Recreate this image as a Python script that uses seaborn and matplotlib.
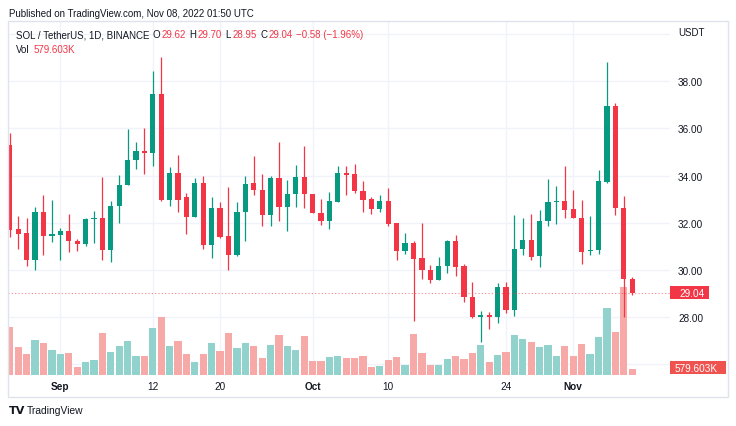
import numpy as np
import pandas as pd
import matplotlib
matplotlib.use("Agg")
import matplotlib.pyplot as plt
import matplotlib.transforms as mtransforms
from matplotlib.patches import Rectangle
import seaborn as sns

# SOL / USDT daily candles, Aug 26 - Nov 8 2022
dates = pd.date_range("2022-08-26", "2022-11-08", freq="D")

opens = [35.28, 31.72, 31.55, 30.40, 32.44, 31.44, 31.47, 31.64, 31.24, 31.10,
         32.16, 32.19, 30.86, 32.70, 33.62, 34.66, 35.06, 34.97, 37.46, 32.96,
         34.12, 33.09, 32.26, 33.69, 31.07, 32.63, 31.42, 30.62, 32.44, 33.69,
         33.37, 32.31, 33.88, 32.68, 33.23, 33.94, 33.23, 32.43, 32.06, 32.89,
         34.11, 34.05, 33.36, 33.01, 32.57, 32.94, 31.97, 30.79, 31.14, 30.49,
         29.99, 29.58, 30.16, 31.21, 30.16, 28.85, 27.99, 28.07, 27.99, 29.27,
         28.28, 30.87, 31.28, 30.57, 32.07, 32.87, 32.94, 32.57, 32.20, 30.80,
         30.84, 33.71, 36.94, 32.61, 29.62]
highs = [35.81, 32.27, 32.20, 32.65, 33.18, 32.96, 31.78, 32.37, 31.30, 32.22,
         32.48, 33.94, 32.94, 34.01, 35.98, 35.41, 36.01, 38.42, 39.03, 34.37,
         34.87, 33.26, 33.88, 34.00, 33.09, 32.87, 33.52, 32.87, 34.00, 34.82,
         34.07, 34.00, 35.43, 33.83, 34.45, 35.24, 33.24, 32.99, 33.29, 34.42,
         34.39, 34.51, 33.77, 33.08, 33.18, 33.47, 31.97, 31.56, 31.21, 31.99,
         30.21, 30.53, 31.28, 31.48, 30.25, 29.47, 28.27, 28.20, 29.44, 29.50,
         32.33, 32.19, 32.36, 32.54, 33.86, 33.56, 34.39, 33.37, 32.96, 32.27,
         34.22, 38.83, 37.08, 33.13, 29.70]
lows = [31.38, 30.89, 30.18, 30.01, 30.65, 31.18, 30.43, 30.77, 30.80, 31.03,
        31.15, 30.43, 30.32, 31.97, 33.60, 34.29, 34.07, 34.42, 32.94, 32.70,
        32.44, 31.52, 32.24, 30.89, 30.52, 31.35, 30.01, 30.60, 31.21, 33.19,
        31.88, 31.88, 32.07, 31.66, 32.68, 32.63, 32.40, 31.92, 31.73, 32.88,
        33.19, 33.25, 32.44, 32.37, 32.44, 31.88, 30.43, 30.69, 27.84, 29.61,
        29.43, 29.57, 29.85, 29.73, 28.62, 27.97, 26.93, 27.49, 27.75, 28.16,
        28.06, 30.63, 30.42, 30.14, 31.86, 31.95, 32.22, 32.19, 30.23, 30.63,
        30.66, 33.68, 32.34, 27.99, 28.95]
closes = [31.69, 31.52, 30.40, 32.44, 31.44, 31.52, 31.64, 31.21, 31.10, 32.16,
          32.19, 30.86, 32.70, 33.62, 34.66, 35.03, 34.97, 37.46, 32.96, 34.12,
          32.98, 32.26, 33.69, 31.07, 32.63, 31.38, 30.62, 32.44, 33.66, 33.37,
          32.34, 33.88, 32.68, 33.21, 33.94, 33.23, 32.41, 32.06, 32.91, 34.11,
          34.04, 33.33, 32.98, 32.57, 32.94, 31.95, 30.79, 31.14, 30.46, 29.99,
          29.58, 30.16, 31.21, 30.14, 28.83, 27.99, 28.07, 27.99, 29.27, 28.28,
          30.87, 31.28, 30.55, 32.07, 32.88, 32.94, 32.55, 32.20, 30.77, 30.84,
          33.76, 36.94, 32.61, 29.62, 29.04]
# volume in thousands
vol_k = [4637, 2705, 2029, 3349, 3059, 2415, 2029, 2093, 773, 1224,
         1417, 4089, 2222, 2769, 3317, 1803, 1803, 4540, 5603, 2801,
         3252, 2029, 1288, 2061, 3123, 2318, 4025, 2608, 3059, 2769,
         1642, 2930, 3896, 2769, 2415, 3767, 1352, 1352, 1739, 1803,
         1610, 1674, 1803, 773, 869, 1417, 1739, 966, 3928, 2125,
         966, 934, 1546, 1803, 1546, 2125, 2898, 1224, 1932, 2222,
         3896, 3445, 3188, 2705, 2930, 1803, 2769, 1803, 2995, 2061,
         3639, 6504, 4154, 8533, 579.603]

tick_dates = ["2022-09-01", "2022-09-12", "2022-09-20", "2022-10-01",
              "2022-10-10", "2022-10-24", "2022-11-01"]
tick_labels = ["Sep", "12", "20", "Oct", "10", "24", "Nov"]
price_ticks = [28, 30, 32, 34, 36, 38]
grid_prices = [26, 28, 30, 32, 34, 36, 38, 40]
last_close = 29.04

sns.set_theme(style="white")
plt.rcParams["font.family"] = ["Liberation Sans", "DejaVu Sans"]

GREEN = "#089981"
RED = "#F23645"
VGREEN = "#92D2CC"
VRED = "#F7A9A7"
TEXT = "#131722"
GRID = "#F0F3FA"

origin = pd.Timestamp("2022-09-01")
df = pd.DataFrame({"day": (dates - origin).days, "open": opens, "high": highs,
                   "low": lows, "close": closes, "vol": vol_k})
df["dir"] = np.where(df["close"] >= df["open"], "up", "down")
cols = np.where(df["dir"] == "up", GREEN, RED)
tick_x = [(pd.Timestamp(d) - origin).days for d in tick_dates]

W, H = 736, 427
fig = plt.figure(figsize=(W / 100, H / 100), dpi=100)
L, R, T, B = 8, 670, 22, 376
rect = [L / W, 1 - B / H, (R - L) / W, (B - T) / H]

def px(x, y):
    return x / W, 1 - y / H

ax_g = fig.add_axes(rect)
ax_v = fig.add_axes(rect, sharex=ax_g)
ax_p = fig.add_axes(rect, sharex=ax_g, sharey=ax_g)
for a in (ax_v, ax_p):
    a.patch.set_alpha(0)
for a in (ax_g, ax_v, ax_p):
    for s in a.spines.values():
        s.set_visible(False)

# grid
for y in grid_prices:
    ax_g.axhline(y, color=GRID, lw=1)
for x in tick_x:
    ax_g.axvline(x, color=GRID, lw=1)

# volume
sns.barplot(data=df, x="day", y="vol", hue="dir", palette={"up": VGREEN, "down": VRED},
            native_scale=True, dodge=False, width=0.86, saturation=1, legend=False,
            errorbar=None, linewidth=0, ax=ax_v)
ax_v.set_ylim(0, 34200)
ax_v.set_xlabel("")
ax_v.set_ylabel("")

# candles
ax_p.vlines(df["day"], df["low"], df["high"], colors=cols, lw=0.9)
body_lo = np.minimum(df["open"], df["close"])
body_h = np.maximum((df["close"] - df["open"]).abs(), 0.04)
ax_p.bar(df["day"], body_h, bottom=body_lo, width=0.62, color=cols, linewidth=0)
ax_p.axhline(last_close, color=RED, lw=0.8, ls=(0, (1, 2)), alpha=0.6)

ax_p.set_xlim(-6.22, 72.5)
ax_p.set_ylim(25.54, 40.56)

ax_p.yaxis.tick_right()
ax_p.set_yticks(price_ticks)
ax_p.set_yticklabels([f"{v:.2f}" for v in price_ticks])
ax_p.tick_params(axis="y", length=0, pad=5.8, labelsize=7.2, labelcolor=TEXT)
ax_p.set_xticks(tick_x)
ax_p.set_xticklabels(tick_labels)
ax_p.tick_params(axis="x", length=0, pad=4, labelsize=7.2, labelcolor=TEXT)
for lab in ax_p.get_xticklabels():
    if lab.get_text() in ("Sep", "Oct", "Nov"):
        lab.set_fontweight("bold")

for a in (ax_g, ax_v):
    a.tick_params(left=False, right=False, bottom=False, top=False,
                  labelleft=False, labelright=False, labelbottom=False, labeltop=False)

# last price label
tr = mtransforms.blended_transform_factory(ax_p.transAxes, ax_p.transData)
ax_p.add_patch(Rectangle((1.0, last_close - 0.276), 39 / 662, 0.552, transform=tr,
                         fc=RED, ec="none", clip_on=False))
ax_p.text(1 + 9 / 662, last_close, f"{last_close:.2f}", transform=tr, color="white",
          fontsize=7.2, va="center", ha="left", clip_on=False)
# last volume label
ax_v.add_patch(Rectangle((1.0, 0.002), 56 / 662, 0.038, transform=ax_v.transAxes,
                         fc="#EF5350", ec="none", clip_on=False))
ax_v.text(1 + 5 / 662, 0.021, "579.603K", transform=ax_v.transAxes, color="white",
          fontsize=7.2, va="center", ha="left", clip_on=False)

# texts
fig.text(*px(9, 14), "Published on TradingView.com, Nov 08, 2022 01:50 UTC",
         fontsize=7.0, color=TEXT, va="center")
fig.text(*px(678, 33), "USDT", fontsize=7, color=TEXT, va="center")

renderer = fig.canvas.get_renderer()

def text_row(x0, y, parts, size=7.0):
    # parts: (text, colour, gap in px before it)
    x = x0
    for s, c, gap in parts:
        x += gap
        t = fig.text(*px(x, y), s, fontsize=size, color=c, va="center")
        x += t.get_window_extent(renderer).width

text_row(15.5, 35, [("SOL / TetherUS, 1D, BINANCE", TEXT, 0), ("O", TEXT, 3.5),
                    ("29.62", RED, 1), ("H", TEXT, 4), ("29.70", RED, 1),
                    ("L", TEXT, 4), ("28.95", RED, 1), ("C", TEXT, 4),
                    ("29.04", RED, 1), ("\u22120.58 (\u22121.96%)", RED, 3.5)])
text_row(15.5, 50, [("Vol", TEXT, 0), ("579.603K", RED, 5)])

fig.text(*px(9, 411), "TV", fontsize=8, color=TEXT, va="center", fontweight="bold",
         family="DejaVu Sans")
fig.text(*px(27, 411), "TradingView", fontsize=7.4, color=TEXT, va="center")

# pane border
fig.add_artist(Rectangle(px(8, 398), 720 / W, 376 / H, transform=fig.transFigure,
                         fill=False, ec="#E0E3EB", lw=1))

fig.savefig("out.png", dpi=100, facecolor="white")
